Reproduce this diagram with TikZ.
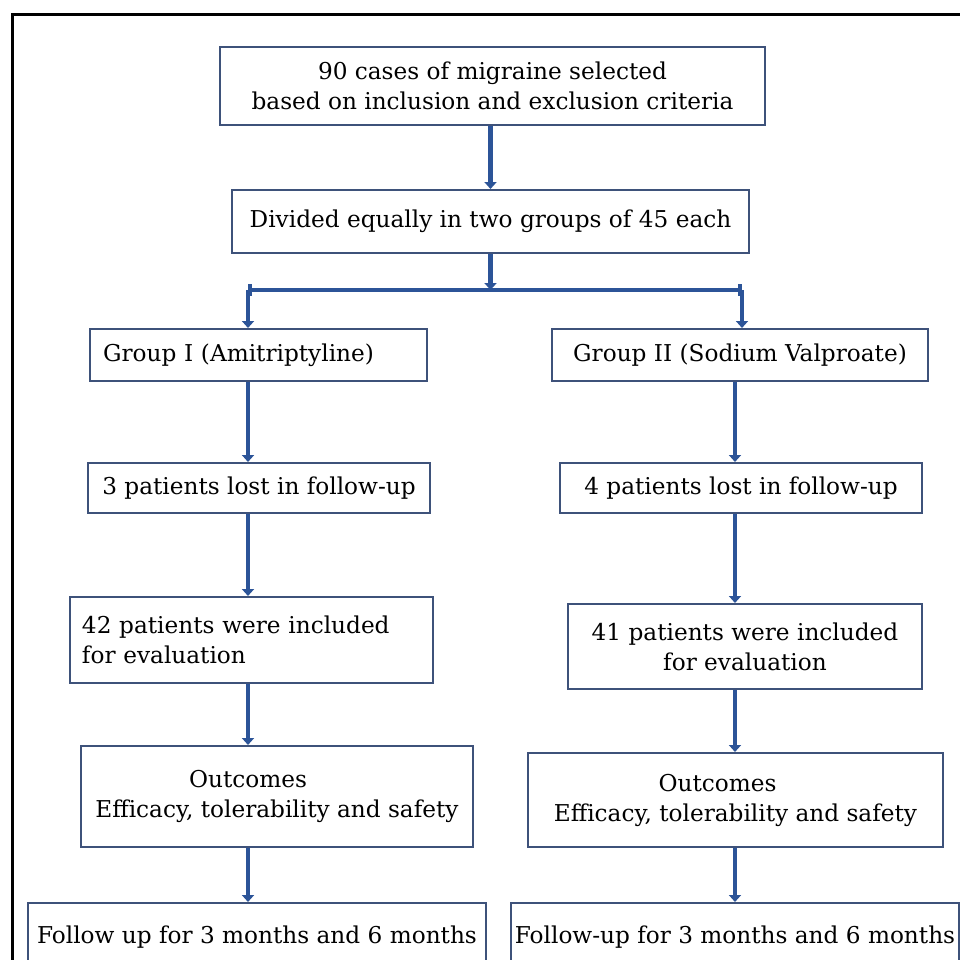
\documentclass[tikz,border=0pt]{standalone}
\usepackage{fontspec}
\setmainfont{DejaVu Serif}
\usetikzlibrary{arrows.meta,calc}
\definecolor{arrblue}{RGB}{44,84,152}
\definecolor{boxline}{RGB}{62,82,122}
\tikzset{
  bx/.style={draw=boxline, line width=1pt, inner sep=1pt, align=center,
    font=\fontsize{11.6}{15}\selectfont, text=black},
  arr/.style={draw=arrblue, line width=2.2pt,
    -{Triangle[width=6pt,length=3.5pt]}},
  split/.style={draw=arrblue, line width=2pt,
    {Bar[width=6pt]}-{Bar[width=6pt]}}
}
\begin{document}
\begin{tikzpicture}[x=0.5pt,y=-0.5pt]
\useasboundingbox (0,0) rectangle (960,960);
\clip (0,0) rectangle (960,960);
\draw[line width=1.5pt,black] (12,14) rectangle (1000,1000);

\node[bx, minimum width=272.5pt, minimum height=39pt] (b1) at (492.5,86)
  {90 cases of migraine selected\\based on inclusion and exclusion criteria};
\node[bx, minimum width=258.5pt, minimum height=31.5pt] (b2) at (490.5,221.5)
  {Divided equally in two groups of 45 each};

\node[bx, minimum width=168.5pt, minimum height=26pt, inner xsep=6.5pt,
  text width=155.5pt, align=left] (g1) at (258.5,355) {Group I (Amitriptyline)};
\node[bx, minimum width=188pt, minimum height=26pt] (g2) at (740,355)
  {Group II (Sodium Valproate)};

\node[bx, minimum width=171pt, minimum height=25pt] (l1) at (259,488)
  {3 patients lost in follow-up};
\node[bx, minimum width=181pt, minimum height=25pt] (l2) at (741,488)
  {4 patients lost in follow-up};

\node[bx, minimum width=181.5pt, minimum height=43pt, inner xsep=6pt,
  text width=169.5pt, align=left] (e1) at (251.5,640)
  {42 patients were included\\for evaluation};
\node[bx, minimum width=177pt, minimum height=42.5pt] (e2) at (745,646.5)
  {41 patients were included\\for evaluation};

\node[bx, minimum width=196pt, minimum height=50.5pt] (o1) at (277,796.5)
  {Outcomes\hspace*{29pt}\\Efficacy, tolerability and safety};
\node[bx, minimum width=207.5pt, minimum height=47pt] (o2) at (735.5,800)
  {Outcomes\hspace*{18pt}\\Efficacy, tolerability and safety};

\node[bx, minimum width=229pt, minimum height=34.5pt] (f1) at (257,937.5)
  {Follow up for 3 months and 6 months};
\node[bx, minimum width=224pt, minimum height=34.5pt] (f2) at (735,937.5)
  {Follow-up for 3 months and 6 months};

\coordinate (sp) at (490.5,290);
\coordinate (spL) at (248,290);
\coordinate (spR) at (742,290);
\coordinate (colL) at (248,0);
\coordinate (colR) at (735,0);

\draw[arr] (b1.south -| b2.north) -- (b2.north);
\draw[arr] (b2.south) -- (sp);
\draw[split] (spL) -- (spR);
\draw[arr] (spL) -- (spL |- g1.north);
\draw[arr] (spR) -- (spR |- g2.north);

\draw[arr] (g1.south -| colL) -- (l1.north -| colL);
\draw[arr] (l1.south -| colL) -- (e1.north -| colL);
\draw[arr] (e1.south -| colL) -- (o1.north -| colL);
\draw[arr] (o1.south -| colL) -- (f1.north -| colL);

\draw[arr] (g2.south -| colR) -- (l2.north -| colR);
\draw[arr] (l2.south -| colR) -- (e2.north -| colR);
\draw[arr] (e2.south -| colR) -- (o2.north -| colR);
\draw[arr] (o2.south -| colR) -- (f2.north -| colR);
\end{tikzpicture}
\end{document}
